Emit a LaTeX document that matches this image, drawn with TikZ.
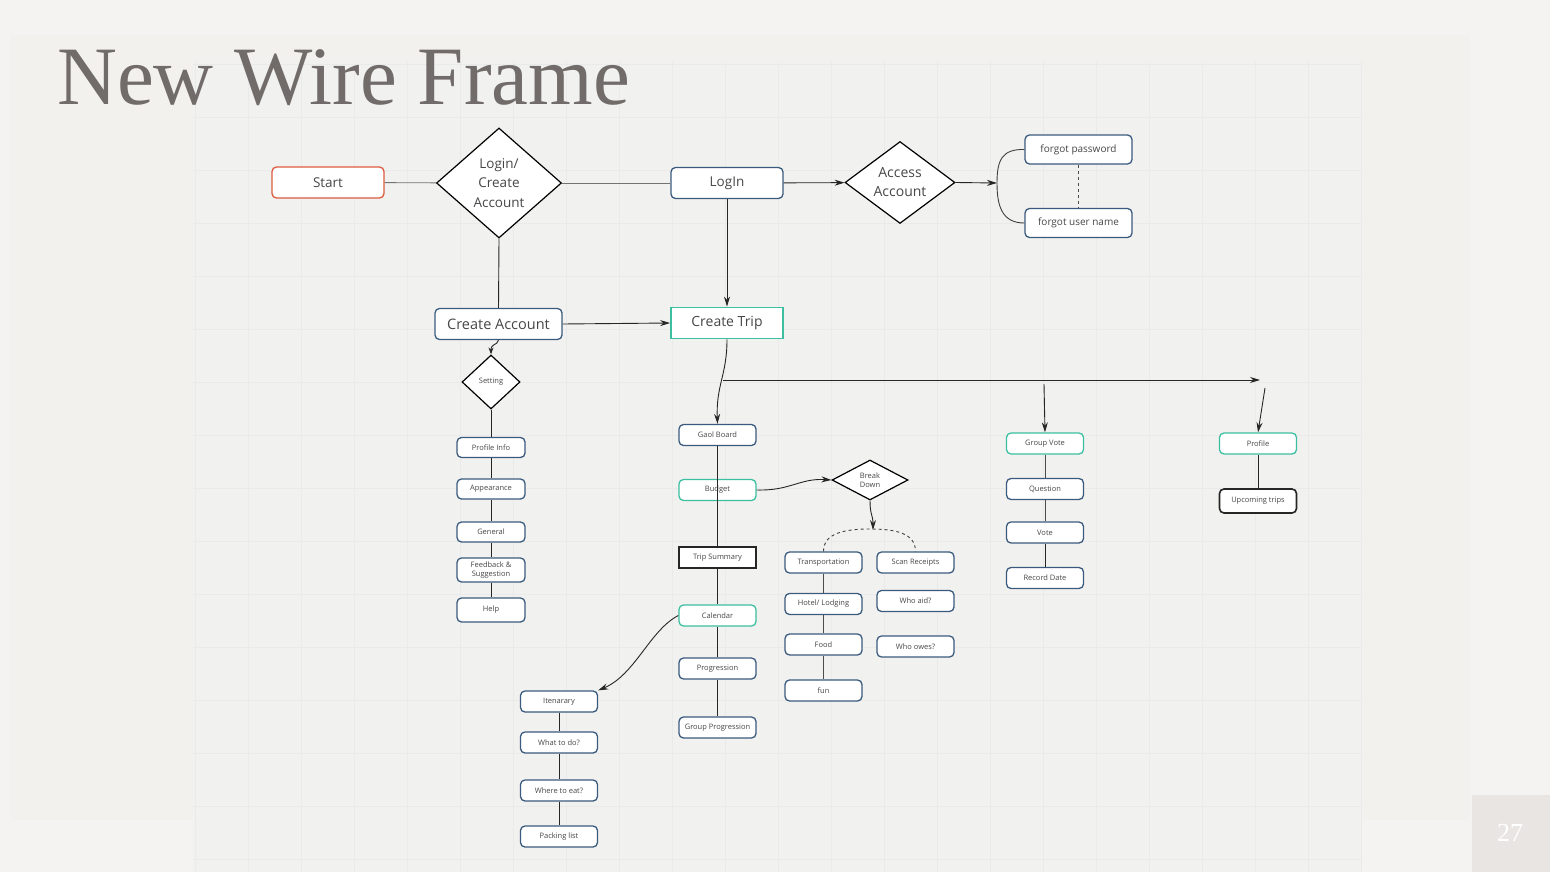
\documentclass[tikz,border=0pt]{standalone}
\usepackage{fontspec}
\setmainfont{Open Sans}
\newfontfamily\titlefont{Liberation Serif}
\usetikzlibrary{shapes.geometric,arrows.meta}
\definecolor{bgc}{HTML}{F5F3F2}
\definecolor{panelc}{HTML}{F3F1EE}
\definecolor{gridbg}{HTML}{F1F1F0}
\definecolor{gridline}{HTML}{EAEAEA}
\definecolor{blueb}{HTML}{3B5B7E}
\definecolor{tealb}{HTML}{3CBFA0}
\definecolor{redb}{HTML}{DE5B3E}
\definecolor{txt}{HTML}{474747}
\definecolor{titlec}{HTML}{716C6A}
\definecolor{pnbox}{HTML}{E9E5E2}
\tikzset{
  box/.style={draw=blueb, line width=1.3pt, rounded corners=4.5pt, fill=white, text=txt, inner sep=0pt, align=center},
  bigbox/.style={box, minimum width=112pt, minimum height=31pt, font=\fontsize{13.5}{15}\selectfont},
  smallbox/.style={box, minimum width=77pt, minimum height=21pt, font=\fontsize{7.5}{8.5}\selectfont},
  leftbox/.style={smallbox, minimum width=68pt, minimum height=20pt},
  tealbox/.style={draw=tealb},
  blackbox/.style={draw=black!85, sharp corners, line width=1.6pt},
  decision/.style={diamond, draw=black, line width=1.2pt, fill=white, inner sep=0pt, text=txt, align=center},
  conn/.style={draw=black!85, line width=0.9pt},
  arr/.style={conn, -{Stealth[length=10pt,width=6pt]}},
}
\begin{document}
\begin{tikzpicture}[x=1pt,y=-1pt]
\useasboundingbox (0,0) rectangle (1550,872);
\fill[bgc] (0,0) rectangle (1550,872);
\fill[panelc] (10,35) rectangle (1470,820);
\fill[gridbg] (193,62) rectangle (1362,872);
\foreach \x in {195,248,...,1362} \draw[gridline, line width=0.6pt] (\x,62) -- (\x,872);
\foreach \y in {64,117,...,872} \draw[gridline, line width=0.6pt] (193,\y) -- (1362,\y);
\fill[pnbox] (1472,795) rectangle (1550,872);
\node[text=white, font=\titlefont\fontsize{26}{26}\selectfont, inner sep=0] (pnum) at (1510,833) {27};
\node[anchor=base west, font=\titlefont\fontsize{83}{83}\selectfont, text=titlec, inner sep=0] (title) at (57,105) {New Wire Frame};

% top row
\node[bigbox, draw=redb] (start) at (328,182.5) {Start};
\node[decision, minimum width=125pt, minimum height=110pt, font=\fontsize{13.5}{19.5}\selectfont] (lca) at (499,183) {Login/\\Create\\Account};
\node[bigbox] (login) at (727,183) {LogIn};
\node[decision, minimum width=110pt, minimum height=71pt, font=\fontsize{14}{19}\selectfont] (acc) at (900,182.5) {Access\\Account};
\node[box, minimum width=107pt, minimum height=29pt, font=\fontsize{10}{12}\selectfont] (fp) at (1078.5,149.5) {forgot password};
\node[box, minimum width=107pt, minimum height=29pt, font=\fontsize{10}{12}\selectfont] (fu) at (1078.5,223) {forgot user name};
\coordinate (br) at (997,183);

% second row
\node[bigbox, minimum width=127pt, font=\fontsize{14.5}{16}\selectfont] (ca) at (498.5,324) {Create Account};
\node[bigbox, tealbox, sharp corners, line width=1.8pt, font=\fontsize{14}{16}\selectfont] (ct) at (727,323) {Create Trip};

% settings column
\node[decision, minimum width=58pt, minimum height=54pt, font=\fontsize{7.5}{9}\selectfont] (set) at (491,382) {Setting};
\node[leftbox] (pi) at (491,447.5) {Profile Info};
\node[leftbox] (ap) at (491,489) {Appearance};
\node[leftbox] (ge) at (491,532) {General};
\node[leftbox, minimum height=24pt, font=\fontsize{7.5}{9}\selectfont] (fs) at (491,570) {Feedback \&\\Suggestion};
\node[leftbox, minimum height=24pt] (he) at (491,610) {Help};

% trip column
\node[smallbox] (gb) at (717.5,435) {Gaol Board};
\node[smallbox, tealbox] (bu) at (717.5,490) {Budget};
\node[smallbox, blackbox] (ts) at (717.5,557.5) {Trip Summary};
\node[smallbox, tealbox] (cal) at (717.5,615.5) {Calendar};
\node[smallbox] (pr) at (717.5,668.5) {Progression};
\node[smallbox] (gp) at (717.5,727.5) {Group Progression};

% budget breakdown
\node[decision, minimum width=76pt, minimum height=40pt, font=\fontsize{7.5}{9}\selectfont] (bd) at (870,480) {Break\\Down};
\coordinate (bdend) at (873,530);
\node[smallbox] (tr) at (823.5,562.5) {Transportation};
\node[smallbox] (sr) at (915.5,562.5) {Scan Receipts};
\node[smallbox] (hl) at (823.5,604) {Hotel/ Lodging};
\node[smallbox] (fo) at (823.5,644.5) {Food};
\node[smallbox] (fun) at (823.5,690.5) {fun};
\node[smallbox] (wa) at (915.5,601) {Who aid?};
\node[smallbox] (wo) at (915.5,646.5) {Who owes?};

% itinerary
\node[smallbox] (it) at (559,701.5) {Itenarary};
\node[smallbox] (wd) at (559,742.5) {What to do?};
\node[smallbox] (we) at (559,790.5) {Where to eat?};
\node[smallbox] (pl) at (559,836.5) {Packing list};

% group vote
\node[smallbox, tealbox] (gv) at (1045,443.5) {Group Vote};
\node[smallbox] (qu) at (1045,489) {Question};
\node[smallbox] (vo) at (1045,532.5) {Vote};
\node[smallbox] (rd) at (1045,578) {Record Date};

% profile
\node[smallbox, tealbox] (pf) at (1258,443.5) {Profile};
\node[smallbox, blackbox, rounded corners=4.5pt, minimum height=24pt] (ut) at (1258,501) {Upcoming trips};

\coordinate (hs) at (723,380);
\coordinate (he2) at (1260,380);
\coordinate (gvs) at (1044,384);
\coordinate (pfs) at (1265,388);

% connectors
\draw[conn, black!55] (start) -- (lca);
\draw[conn, black!55] (lca) -- (login);
\draw[arr] (login) -- (acc);
\draw[arr] (acc.east) -- (br);
\draw[conn, black!75] (fp.west) .. controls (1002,149) and (997,160) .. (br) .. controls (997,206) and (1002,223) .. (fu.west);
\draw[conn, dashed, black!70] (fp) -- (fu);
\draw[arr] (login) -- (ct);
\draw[conn] (lca.south) -- (ca.north);
\draw[arr] (ca.east) -- (ct.west);
\draw[conn, -{Stealth[length=7pt,width=5pt]}] (ca.south) .. controls (497,346) and (491,343) .. (set.north);
\draw[conn] (set.south) -- (pi.north);
\draw[conn] (pi) -- (ap);
\draw[conn] (ap) -- (ge);
\draw[conn] (ge) -- (fs);
\draw[conn] (fs) -- (he);

\draw[arr] (ct.south) .. controls (727,375) and (716,385) .. (gb.north);
\draw[arr] (hs) -- (he2);
\draw[arr] (gvs) -- (gv.north);
\draw[arr] (pfs) -- (pf.north);
\draw[conn] (gb.south) -- (ts.north);
\draw[conn] (ts) -- (cal);
\draw[conn] (cal) -- (pr);
\draw[conn] (pr) -- (gp);

\draw[arr] (bu.east) .. controls (790,491) and (800,478) .. (bd.west);
\draw[arr] (bd.south) .. controls (870,515) and (873,515) .. (bdend);
\draw[conn, dashed, black!75] (tr.north) .. controls (823.5,533) and (845,529) .. (870,529) .. controls (895,529) and (915.5,533) .. (sr.north);
\draw[conn, black!70] (tr) -- (hl);
\draw[conn, black!70] (hl) -- (fo);
\draw[conn, black!70] (fo) -- (fun);

\draw[arr] (cal.west) .. controls (650,630) and (635,675) .. (it.north east);
\draw[conn] (it) -- (wd);
\draw[conn] (wd) -- (we);
\draw[conn] (we) -- (pl);

\draw[conn, black!70] (gv) -- (qu);
\draw[conn, black!70] (qu) -- (vo);
\draw[conn] (vo) -- (rd);
\draw[conn] (pf) -- (ut);
\end{tikzpicture}
\end{document}
